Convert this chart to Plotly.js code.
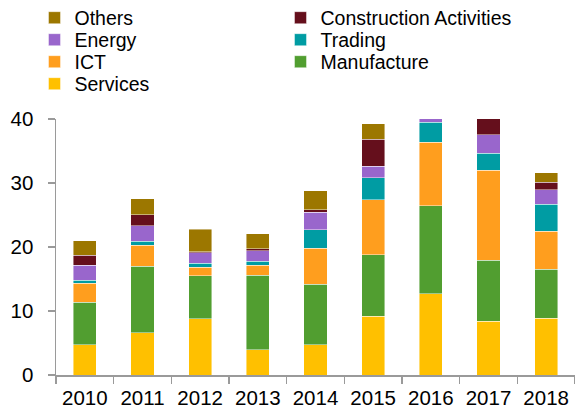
<!DOCTYPE html>
<html>
<head>
<meta charset="utf-8">
<script src="https://cdn.plot.ly/plotly-3.0.1.min.js"></script>
<style>html,body{margin:0;padding:0;background:#fff;}#chart{width:575px;height:413px;}</style>
</head>
<body>
<div id="chart"></div>
<script>
var years = ["2010","2011","2012","2013","2014","2015","2016","2017","2018"];
var services     = [4.75, 6.63, 8.77, 3.97, 4.75, 9.19, 12.69, 8.41, 8.88];
var manufacture  = [6.58, 10.34, 6.74, 11.64, 9.40, 9.61, 13.73, 9.55, 7.62];
var ict          = [2.98, 3.34, 1.36, 1.57, 5.69, 8.56, 9.92, 14.00, 5.95];
var trading      = [0.47, 0.58, 0.62, 0.57, 2.88, 3.50, 3.14, 2.66, 4.23];
var energy       = [2.35, 2.40, 1.62, 1.68, 2.71, 1.72, 1.00, 2.93, 2.25];
var construction = [1.56, 1.78, 0.16, 0.31, 0.42, 4.23, 1.50, 3.00, 1.15];
var others       = [2.30, 2.50, 3.50, 2.30, 2.92, 2.46, 1.50, 2.00, 1.51];

var names  = ["Services","Manufacture","ICT","Trading","Energy","Construction Activities","Others"];
var series = [services, manufacture, ict, trading, energy, construction, others];
var colors = ["#FFC000","#519E30","#FF9E1E","#009CA3","#9966CC","#650F1C","#9C7700"];
// legend row for each series (row 1 = top)
var legendRow = ["legend4","legend3","legend3","legend2","legend2","legend","legend"];

var traces = series.map(function(v, i){
  return {
    type: "bar", x: years, y: v, name: names[i],
    legend: legendRow[i],
    marker: {color: colors[i], line: {color: "rgba(255,255,255,0.55)", width: 0.8}},
    hoverinfo: "x+y+name"
  };
});

var font = "Liberation Sans, Arial, sans-serif";
function leg(yc){
  return {
    orientation: "h", traceorder: "reversed",
    xref: "container", yref: "container",
    x: 0.06, xanchor: "left", y: 1 - yc/413, yanchor: "middle",
    entrywidth: 201, entrywidthmode: "pixels",
    font: {family: font, size: 19.5, color: "#000"},
    bgcolor: "rgba(0,0,0,0)", borderwidth: 0, itemwidth: 30
  };
}
var layout = {
  width: 575, height: 413,
  margin: {l: 56, r: 0, t: 119, b: 38},
  barmode: "stack",
  bargap: 0.6,
  paper_bgcolor: "#fff", plot_bgcolor: "#fff",
  font: {family: font, size: 20, color: "#000"},
  showlegend: true,
  legend: leg(18), legend2: leg(40), legend3: leg(62), legend4: leg(84),
  xaxis: {
    type: "category", range: [-0.5, 8.5],
    showline: true, linecolor: "#9a9a9a", linewidth: 1.5,
    ticks: "outside", tickson: "boundaries", ticklen: 7, tickcolor: "#9a9a9a", tickwidth: 1.5,
    showgrid: false, zeroline: false,
    ticklabelstandoff: 4,
    tickfont: {family: font, size: 20.5, color: "#000"}
  },
  yaxis: {
    range: [0, 40], dtick: 10, tick0: 0,
    showline: true, linecolor: "#9a9a9a", linewidth: 1.5,
    ticks: "outside", ticklen: 7, tickcolor: "#9a9a9a", tickwidth: 1.5,
    showgrid: false, zeroline: false,
    ticklabelstandoff: 10,
    tickfont: {family: font, size: 20.5, color: "#000"}
  }
};

Plotly.newPlot("chart", traces, layout, {displayModeBar: false, staticPlot: true});
</script>
</body>
</html>
